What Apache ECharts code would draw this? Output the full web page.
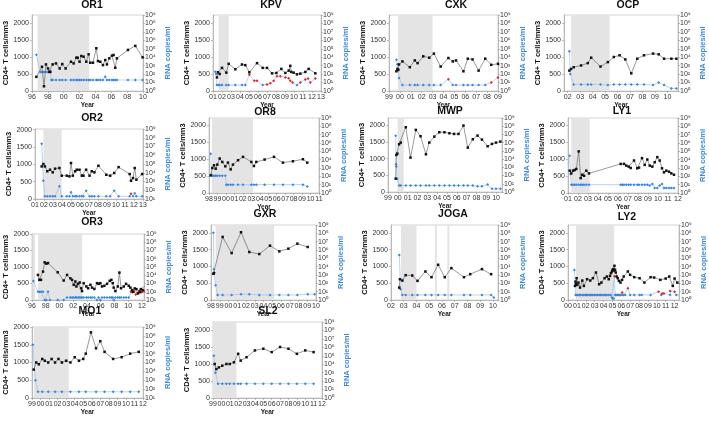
<!DOCTYPE html>
<html><head><meta charset="utf-8">
<script src="https://cdn.jsdelivr.net/npm/echarts@6/dist/echarts.min.js"></script>
<style>html,body{margin:0;padding:0;background:#fff}#c{width:709px;height:430px}</style>
</head><body><div id="c"></div>
<script>
// ---------------- DATA ----------------
const cd4Ticks = [0,500,1000,1500,2000];

const OR1_years = [1996,1998,2000,2002,2004,2006,2008,2010];
const OR1_shade = [[1996.7,2003.2]];
const OR1_cd4 = [[1996.55,416],[1997.26,713],[1997.51,139],[1997.76,782],[1998.02,663],[1998.18,564],[1998.31,564],[1998.6,782],[1999.03,812],[1999.49,663],[1999.82,792],[2000.24,663],[2000.92,861],[2001.25,812],[2001.59,980],[2001.76,980],[2002.0,861],[2002.22,1030],[2002.51,1010],[2002.85,861],[2003.14,1079],[2003.35,832],[2003.69,832],[2004.11,1257],[2004.32,881],[2004.61,861],[2004.95,762],[2005.24,911],[2005.45,782],[2005.75,960],[2006.08,1040],[2006.29,1059],[2006.5,683],[2006.71,960],[2008.1,1208],[2009.03,1327],[2009.95,990]];
const OR1_rna = [[1996.55,20000],[1997.05,180],[1997.26,180],[1997.51,180],[1997.76,180],[1998.02,180],[1998.18,180],[1998.31,180],[1998.45,20],[1998.6,20],[1999.03,20],[1999.49,20],[1999.82,20],[2000.24,20],[2000.92,20],[2001.25,20],[2001.59,20],[2001.76,20],[2002.0,20],[2002.22,20],[2002.51,20],[2002.85,20],[2003.14,20],[2003.35,20],[2003.69,20],[2004.11,20],[2004.32,20],[2004.61,20],[2004.95,20],[2005.24,50],[2005.45,20],[2005.75,20],[2006.08,20],[2006.29,20],[2006.5,20],[2006.71,20],[2008.1,20],[2009.03,20],[2009.95,20]];
const OR1_red = [];

const KPV_years = [2001,2002,2003,2004,2005,2006,2007,2008,2009,2010,2011,2012,2013];
const KPV_shade = [[2001.63,2002.74]];
const KPV_cd4 = [[2001.44,400],[2001.56,550],[2001.74,500],[2002.0,680],[2002.48,540],[2002.74,800],[2003.48,640],[2004.22,780],[2004.59,760],[2005.04,550],[2005.89,820],[2006.52,680],[2007.0,680],[2007.56,520],[2008.04,530],[2008.59,650],[2009.04,530],[2009.41,600],[2009.59,740],[2009.7,560],[2009.96,540],[2010.33,490],[2010.7,510],[2011.26,560],[2011.63,650],[2012.37,520]];
const KPV_rna = [[2001.26,190],[2001.35,100],[2001.44,5],[2001.56,5],[2001.74,5],[2002.0,5],[2002.48,5],[2002.74,5],[2003.48,5],[2004.22,5],[2004.59,5],[2006.52,5],[2010.33,5]];
const KPV_red = [[2005.04,83],[2005.59,16],[2005.89,16],[2007.0,6],[2007.37,8],[2007.74,16],[2008.11,57],[2008.48,57],[2009.04,40],[2009.41,33],[2009.59,16],[2009.85,10],[2010.7,10],[2011.26,23],[2011.56,30],[2011.81,10],[2012.37,30]];

const CXK_years = [1999,2000,2001,2002,2003,2004,2005,2006,2007,2008,2009];
const CXK_shade = [[1999.83,2003.0]];
const CXK_cd4 = [[1999.68,580],[1999.77,650],[1999.85,620],[1999.92,780],[2000.23,870],[2000.91,700],[2001.37,900],[2001.62,820],[2002.14,1020],[2002.69,980],[2003.12,1100],[2003.74,720],[2004.45,970],[2004.85,870],[2005.15,900],[2005.83,580],[2006.23,950],[2006.66,930],[2007.22,600],[2007.83,950],[2008.38,770],[2009.0,800]];
const CXK_rna = [[1999.68,5000],[1999.77,1500],[1999.85,400],[1999.92,35],[2000.23,5],[2000.91,5],[2001.37,5],[2001.62,5],[2002.14,5],[2002.69,5],[2003.12,5],[2003.74,5],[2004.85,5],[2005.15,5],[2005.83,5],[2006.23,5],[2006.66,5],[2007.22,5],[2007.83,5]];
const CXK_red = [[2004.45,25],[2008.38,10],[2009.0,40]];

const OCP_years = [2002,2003,2004,2005,2006,2007,2008,2009,2010];
const OCP_shade = [[2002.27,2005.36]];
const OCP_cd4 = [[2002.13,600],[2002.27,650],[2002.48,700],[2003.07,750],[2003.61,820],[2003.88,980],[2004.63,720],[2005.22,850],[2005.7,1000],[2006.16,1050],[2006.62,930],[2007.1,520],[2007.58,950],[2008.12,1050],[2008.85,1100],[2009.3,1080],[2009.73,950],[2010.32,950],[2010.72,950]];
const OCP_rna = [[2002.13,50000],[2002.2,100],[2002.48,6],[2003.07,6],[2003.61,6],[2003.88,6],[2004.63,6],[2005.22,5],[2005.7,6],[2006.16,6],[2006.62,6],[2007.1,6],[2007.58,6],[2008.12,6],[2008.85,5],[2009.3,10],[2009.73,5],[2010.32,2],[2010.72,2]];
const OCP_red = [];

const OR2_years = [2001,2002,2003,2004,2005,2006,2007,2008,2009,2010,2011,2012,2013];
const OR2_shade = [[2001.93,2003.97]];
const OR2_cd4 = [[2001.74,940],[2001.93,1010],[2002.1,940],[2002.37,800],[2002.67,845],[2002.97,770],[2003.23,875],[2003.71,895],[2003.97,673],[2004.53,673],[2004.83,653],[2005.0,1038],[2005.2,673],[2005.46,800],[2005.64,845],[2005.94,845],[2006.2,673],[2006.39,673],[2006.68,845],[2007.06,673],[2007.31,800],[2007.6,770],[2008.05,960],[2008.92,700],[2009.35,673],[2009.8,750],[2010.29,920],[2011.52,720],[2011.67,528],[2011.89,605],[2012.08,893],[2012.26,557],[2012.9,720]];
const OR2_rna = [[2001.74,20000000],[2001.93,1200],[2002.1,20],[2002.37,20],[2002.67,20],[2002.97,20],[2003.23,20],[2003.71,280],[2003.97,20],[2004.53,20],[2004.83,20],[2005.0,60],[2005.2,20],[2005.46,20],[2005.64,20],[2005.94,20],[2006.2,20],[2006.39,20],[2006.68,90],[2007.06,20],[2007.31,20],[2007.6,20],[2008.05,20],[2008.92,20],[2009.35,20],[2009.8,90],[2010.29,20],[2011.52,20],[2011.89,20],[2012.08,45],[2012.26,20],[2012.9,20]];
const OR2_red = [[2011.67,40]];

const OR8_years = [1998,1999,2000,2001,2002,2003,2004,2005,2006,2007,2008,2009,2010,2011];
const OR8_shade = [[1998.35,2003.2]];
const OR8_cd4 = [[1998.2,520],[1998.39,740],[1998.59,820],[1998.79,720],[1998.98,840],[1999.26,1020],[1999.57,920],[1999.93,790],[2000.24,900],[2000.56,700],[2000.83,840],[2001.43,970],[2002.02,1070],[2003.0,920],[2003.31,800],[2003.59,920],[2004.57,990],[2005.68,1070],[2006.74,900],[2007.92,940],[2009.1,1000],[2009.61,900]];
const OR8_rna = [[1998.2,50000],[1998.27,160],[1998.39,120],[1998.59,120],[1998.79,120],[1998.98,120],[1999.26,120],[1999.57,120],[1999.93,120],[2000.05,10],[2000.24,10],[2000.56,10],[2000.83,10],[2001.43,10],[2002.02,10],[2003.0,10],[2003.31,10],[2003.59,10],[2004.57,10],[2005.68,10],[2006.74,10],[2007.92,10],[2009.1,10],[2009.61,6]];
const OR8_red = [];

const MWP_years = [1999,2000,2001,2002,2003,2004,2005,2006,2007,2008,2009,2010];
const MWP_shade = [[1999.97,2000.6]];
const MWP_cd4 = [[1999.78,400],[1999.85,1110],[1999.95,1150],[2000.13,1430],[2000.3,1480],[2000.81,1940],[2001.29,1030],[2001.83,1860],[2002.31,1670],[2002.86,1130],[2003.2,1480],[2003.71,1660],[2004.22,1790],[2004.74,1790],[2005.25,1760],[2005.72,1740],[2006.17,1740],[2006.68,1990],[2007.12,1330],[2007.63,1580],[2008.11,1690],[2008.56,1570],[2009.14,1370],[2009.58,1440],[2009.99,1480],[2010.43,1510]];
const MWP_rna = [[1999.78,7000000],[1999.82,2300],[1999.85,1300],[1999.95,40],[2000.13,6],[2000.3,6],[2000.81,6],[2001.29,6],[2001.83,6],[2002.31,6],[2002.86,6],[2003.2,6],[2003.71,6],[2004.22,6],[2004.74,6],[2005.25,6],[2005.72,6],[2006.17,6],[2006.68,6],[2007.12,6],[2007.63,6],[2008.11,5],[2008.56,5],[2009.14,8],[2009.58,2.5],[2009.99,2.5],[2010.43,2.5]];
const MWP_red = [];

const LY1_years = [2001,2002,2003,2004,2005,2006,2007,2008,2009,2010,2011,2012];
const LY1_shade = [[2001.33,2003.17]];
const LY1_cd4 = [[2001.17,660],[2001.33,580],[2001.5,660],[2001.67,680],[2001.83,710],[2002.07,1230],[2002.27,440],[2002.43,540],[2002.6,510],[2002.83,660],[2003.1,580],[2006.27,860],[2006.6,860],[2006.83,810],[2007.07,780],[2007.27,740],[2007.6,960],[2007.93,730],[2008.1,750],[2008.4,1030],[2008.67,830],[2008.93,990],[2009.17,810],[2009.43,780],[2009.67,910],[2009.93,1060],[2010.17,960],[2010.4,730],[2010.6,610],[2010.83,660],[2011.1,630],[2011.33,580],[2011.6,540]];
const LY1_rna = [[2001.17,30000],[2001.25,190],[2001.33,10],[2001.5,10],[2001.67,10],[2001.83,10],[2002.07,10],[2002.27,10],[2002.43,10],[2002.6,10],[2002.83,10],[2003.1,10],[2006.27,10],[2006.43,10],[2006.6,10],[2006.83,10],[2007.07,10],[2007.27,10],[2007.6,10],[2007.93,10],[2008.1,10],[2008.4,10],[2008.67,10],[2008.93,10],[2009.17,8],[2009.43,12],[2009.67,4],[2009.93,4],[2010.17,8],[2010.4,12],[2010.6,4],[2010.83,4],[2011.1,4],[2011.33,4],[2011.6,4]];
const LY1_red = [];

const OR3_years = [1996,1998,2000,2002,2004,2006,2008,2010,2012];
const OR3_shade = [[1996.05,1996.45],[1996.87,2003.3]];
const OR3_cd4 = [[1996.87,760],[1997.07,610],[1997.31,610],[1997.6,860],[1997.84,1140],[1998.09,1100],[1998.33,1120],[1999.74,840],[2000.61,590],[2001.1,760],[2001.58,660],[2001.83,610],[2002.07,460],[2002.31,560],[2002.46,410],[2002.7,490],[2002.94,530],[2003.14,355],[2003.28,270],[2003.52,510],[2003.91,410],[2004.17,355],[2004.5,460],[2004.74,375],[2005.08,335],[2005.46,510],[2005.7,490],[2005.95,510],[2006.19,410],[2006.53,430],[2006.92,490],[2007.31,580],[2007.55,610],[2007.75,510],[2007.89,375],[2008.14,270],[2008.48,410],[2008.72,830],[2008.96,355],[2009.35,410],[2009.69,490],[2010.08,430],[2010.32,375],[2010.56,300],[2010.7,250],[2010.95,350],[2011.2,330],[2011.45,200],[2011.7,250],[2011.85,330],[2012.1,300],[2012.45,430]];
const OR3_rna = [[1996.2,2000],[1996.87,100],[1997.07,100],[1997.31,100],[1997.6,100],[1997.84,10],[1998.09,10],[1998.33,100],[1998.6,10],[1999.74,10],[2000.61,10],[2001.1,20],[2001.58,20],[2001.83,20],[2002.07,20],[2002.31,20],[2002.46,20],[2002.7,20],[2002.94,20],[2003.14,20],[2003.28,20],[2003.52,20],[2003.91,20],[2004.17,20],[2004.5,20],[2004.74,20],[2005.08,20],[2005.46,10],[2005.7,20],[2005.95,10],[2006.19,20],[2006.53,20],[2006.92,20],[2007.31,20],[2007.55,20],[2007.75,20],[2007.89,10],[2008.14,20],[2008.48,20],[2008.72,20],[2008.96,20],[2009.35,20],[2009.69,20],[2010.08,20]];
const OR3_red = [[2010.4,100],[2010.6,90],[2010.85,110],[2011.1,45],[2011.35,70],[2011.6,130],[2011.85,80],[2012.1,100],[2012.3,120]];

const GXR_years = [1998,1999,2000,2001,2002,2003,2004,2005,2006,2007,2008,2009,2010];
const GXR_shade = [[1998.53,2005.2]];
const GXR_cd4 = [[1998.27,780],[1998.34,800],[1999.33,1880],[2000.36,1400],[2001.43,2020],[2002.38,1430],[2003.52,1370],[2004.74,1620],[2005.81,1450],[2006.84,1530],[2007.87,1680],[2009.05,1580]];
const GXR_rna = [[1998.27,120000000],[1998.34,5000],[1998.38,2000],[1998.53,60],[1998.75,4],[1999.33,4],[2000.36,4],[2001.43,5],[2002.38,5],[2003.52,4],[2004.74,4],[2005.81,4],[2006.84,4],[2007.87,4],[2009.05,5],[2009.85,5]];
const GXR_red = [];

const JOGA_years = [2002,2003,2004,2005,2006,2007,2008,2009,2010];
const JOGA_shade = [[2002.78,2004.0],[2005.44,2005.6],[2006.42,2006.58]];
const JOGA_cd4 = [[2002.65,370],[2002.7,620],[2002.89,580],[2003.15,740],[2003.67,730],[2004.08,570],[2004.7,850],[2005.18,680],[2005.7,1050],[2006.22,680],[2006.74,950],[2007.73,680],[2008.22,770],[2009.14,920],[2009.86,770]];
const JOGA_rna = [[2002.65,250000],[2002.75,20],[2002.89,4],[2003.15,4],[2003.67,4],[2004.08,4],[2004.7,4],[2005.18,4],[2005.7,4],[2006.22,4],[2006.74,4],[2007.73,4],[2008.22,4],[2009.14,4],[2009.86,4],[2010.07,2]];
const JOGA_red = [];

const LY2_years = [2000,2001,2002,2003,2004,2005,2006,2007,2008,2009,2010,2011,2012];
const LY2_shade = [[2000.9,2005.2]];
const LY2_cd4 = [[2000.79,420],[2000.85,550],[2000.9,480],[2000.97,650],[2001.05,450],[2001.18,520],[2001.36,370],[2001.61,580],[2001.79,420],[2002.15,620],[2002.51,580],[2002.8,650],[2003.15,820],[2003.51,470],[2003.76,520],[2004.12,650],[2004.37,700],[2004.59,620],[2004.73,720],[2004.84,800],[2004.95,850],[2005.02,900],[2005.1,920],[2005.17,880],[2005.23,1020],[2005.3,900],[2005.38,820],[2005.48,700],[2005.6,650],[2005.73,570],[2005.91,520],[2006.09,600],[2006.27,700],[2006.74,850],[2006.99,750],[2007.46,680],[2008.06,650],[2008.6,520],[2009.3,680],[2009.7,670],[2010.4,600],[2011.0,640],[2011.4,700],[2011.8,420],[2012.0,640],[2012.3,520],[2012.6,480]];
const LY2_rna = [[2000.72,4000],[2000.85,4],[2000.97,4],[2001.12,4],[2001.3,4],[2001.41,4],[2001.61,4],[2001.79,4],[2001.93,4],[2002.07,4],[2002.22,4],[2002.4,4],[2002.51,4],[2002.68,4],[2002.8,4],[2002.99,4],[2003.15,4],[2003.3,4],[2003.51,4],[2003.66,4],[2003.82,4],[2004.04,4],[2004.2,4],[2004.37,4],[2004.59,4],[2004.8,4],[2004.95,2],[2005.05,1.5],[2005.15,1.5],[2005.3,4],[2005.38,4],[2005.48,4],[2005.6,4],[2005.73,4],[2005.82,4],[2005.91,4],[2006.09,4],[2006.27,4],[2006.45,4],[2006.99,4],[2007.46,4],[2008.06,4],[2008.3,4],[2009.3,4],[2010.5,4],[2011.5,4],[2012.2,4],[2012.6,4]];
const LY2_red = [[2005.23,700],[2006.1,8],[2006.74,25],[2010.2,10],[2010.6,6],[2010.8,6],[2011.5,12],[2012.0,10]];

const MO1_years = [1999,2000,2001,2002,2003,2004,2005,2006,2007,2008,2009,2010,2011,2012];
const MO1_shade = [[1999.2,2003.3]];
const MO1_cd4 = [[1999.2,800],[1999.5,1000],[1999.8,950],[2000.2,1100],[2000.5,1050],[2000.9,1000],[2001.3,1100],[2001.7,1000],[2002.1,1100],[2002.5,1000],[2003.0,1050],[2003.5,1000],[2004.0,1150],[2004.5,1050],[2005.0,1100],[2005.3,1250],[2005.9,1850],[2006.5,1400],[2007.0,1600],[2007.5,1300],[2008.5,1100],[2009.5,1150],[2010.5,1250],[2011.5,1300]];
const MO1_rna = [[1999.1,10000000],[1999.4,1000],[1999.7,50],[2000.2,50],[2000.9,50],[2001.7,50],[2002.5,50],[2003.5,50],[2004.5,50],[2005.3,50],[2006.5,50],[2007.5,50],[2008.5,50],[2009.5,50],[2010.5,50],[2011.5,50]];
const MO1_red = [];

const SL2_years = [1999,2000,2001,2002,2003,2004,2005,2006,2007,2008,2009,2010,2011,2012];
const SL2_shade = [[1999.0,2001.8]];
const SL2_cd4 = [[1999.2,1000],[1999.4,850],[1999.7,900],[2000.1,950],[2000.6,1000],[2001.0,1000],[2001.5,1050],[2002.0,1300],[2002.3,1100],[2003.0,1200],[2004.0,1400],[2005.0,1450],[2006.0,1350],[2007.0,1500],[2008.0,1450],[2009.0,1300],[2010.0,1400],[2011.0,1350]];
const SL2_rna = [[1999.1,100000],[1999.3,1000],[1999.6,50],[2000.1,50],[2000.6,50],[2001.0,50],[2001.5,50],[2002.0,50],[2002.3,50],[2003.0,50],[2004.0,50],[2005.0,50],[2006.0,50],[2007.0,50],[2008.0,50],[2009.0,50],[2010.0,50],[2011.0,50]];
const SL2_red = [];

// ---------------- LAYOUT ----------------
const panels = [
  {name:'OR1', cd4:OR1_cd4, rna:OR1_rna, red:OR1_red, shade:OR1_shade, years:OR1_years, xr:[1996,2010], box:[32,15,143,91], cd4Max:2236, logMin:1, tx:92, ty:6},
  {name:'KPV', cd4:KPV_cd4, rna:KPV_rna, red:KPV_red, shade:KPV_shade, years:KPV_years, xr:[2001,2013], box:[213,15,321,91], cd4Max:2236, logMin:1, tx:271, ty:6},
  {name:'CXK', cd4:CXK_cd4, rna:CXK_rna, red:CXK_red, shade:CXK_shade, years:CXK_years, xr:[1999,2009], box:[389,15,498,91], cd4Max:2236, logMin:1, tx:456, ty:6},
  {name:'OCP', cd4:OCP_cd4, rna:OCP_rna, red:OCP_red, shade:OCP_shade, years:OCP_years, xr:[2001.7,2010.85], box:[564,15,678,91], cd4Max:2236, logMin:1, tx:628, ty:6},
  {name:'OR2', cd4:OR2_cd4, rna:OR2_rna, red:OR2_red, shade:OR2_shade, years:OR2_years, xr:[2001,2013], box:[35,129,143,199], cd4Max:2020, logMin:10, tx:92, ty:119},
  {name:'OR8', cd4:OR8_cd4, rna:OR8_rna, red:OR8_red, shade:OR8_shade, years:OR8_years, xr:[1998,2011], box:[209,118,319,193], cd4Max:2221, logMin:1, tx:265, ty:113},
  {name:'MWP', cd4:MWP_cd4, rna:MWP_rna, red:MWP_red, shade:MWP_shade, years:MWP_years, xr:[1999,2010.6], box:[388,118,502,192], cd4Max:2217, logMin:1, tx:450, ty:112},
  {name:'LY1', cd4:LY1_cd4, rna:LY1_rna, red:LY1_red, shade:LY1_shade, years:LY1_years, xr:[2001,2012], box:[568,118,678,193], cd4Max:2217, logMin:1, tx:622, ty:112},
  {name:'OR3', cd4:OR3_cd4, rna:OR3_rna, red:OR3_red, shade:OR3_shade, years:OR3_years, xr:[1996,2012.3], box:[32,234,144,300], cd4Max:2000, logMin:10, tx:92, ty:223},
  {name:'GXR', cd4:GXR_cd4, rna:GXR_rna, red:GXR_red, shade:GXR_shade, years:GXR_years, xr:[1998,2010], box:[211,225,316,300], cd4Max:2236, logMin:1, tx:265, ty:215},
  {name:'JOGA', cd4:JOGA_cd4, rna:JOGA_rna, red:JOGA_red, shade:JOGA_shade, years:JOGA_years, xr:[2002,2010.4], box:[391,225,498,300], cd4Max:2236, logMin:1, tx:453, ty:215},
  {name:'LY2', cd4:LY2_cd4, rna:LY2_rna, red:LY2_red, shade:LY2_shade, years:LY2_years, xr:[2000,2012.5], box:[568,225,685,300], cd4Max:2236, logMin:1, tx:627, ty:218},
  {name:'MO1', cd4:MO1_cd4, rna:MO1_rna, red:MO1_red, shade:MO1_shade, years:MO1_years, xr:[1999,2012], box:[32,327,143,398], cd4Max:2000, logMin:10, tx:90, ty:312},
  {name:'SL2', cd4:SL2_cd4, rna:SL2_rna, red:SL2_red, shade:SL2_shade, years:SL2_years, xr:[1999,2012], box:[213,322,322,398], cd4Max:2236, logMin:1, tx:268, ty:312}
];

// ---------------- BUILD ----------------
const SUP = ['⁰','¹','²','³','⁴','⁵','⁶','⁷','⁸','⁹'];
const FONT = 'Liberation Sans, Arial, sans-serif';
const NARROW = '"Liberation Sans Narrow", "Liberation Sans", Arial, sans-serif';
const BLUE = '#3a86e0', LBLUE = '#9cc2ef', RED = '#e0262a';
const grids=[], xAxes=[], yAxes=[], series=[], titles=[];

panels.forEach((p,i)=>{
  const [l,t,r,b] = p.box;
  grids.push({left:l, top:t, width:r-l, height:b-t, show:true, borderColor:'#b5b5b5', borderWidth:0.6, backgroundColor:'rgba(0,0,0,0)'});
  titles.push({text:p.name, left:p.tx, top:p.ty-6, padding:0, textAlign:'center', textStyle:{fontSize:10.5, fontWeight:'bold', color:'#111', fontFamily:FONT}});
  xAxes.push({type:'value', gridIndex:i, min:p.xr[0], max:p.xr[1],
    name:'Year', nameLocation:'middle', nameGap:11,
    nameTextStyle:{fontSize:6.5, fontWeight:'bold', color:'#222', fontFamily:FONT},
    axisLine:{onZero:false, lineStyle:{color:'#999', width:0.6}},
    axisTick:{customValues:p.years, length:2, lineStyle:{color:'#999', width:0.6}},
    axisLabel:{customValues:p.years, fontSize:7, color:'#333', margin:3, fontFamily:NARROW,
      formatter:v=>String(Math.round(v)%100).padStart(2,'0')},
    splitLine:{show:false}});
  yAxes.push({type:'value', gridIndex:i, position:'left', min:0, max:p.cd4Max,
    name:'CD4+ T cells/mm3', nameLocation:'middle', nameGap:15, nameRotate:90,
    nameTextStyle:{fontSize:7.5, fontWeight:'bold', color:'#111', fontFamily:FONT},
    axisLine:{show:true, lineStyle:{color:'#999', width:0.6}},
    axisTick:{show:true, customValues:cd4Ticks, length:2, lineStyle:{color:'#999', width:0.6}},
    axisLabel:{customValues:cd4Ticks, fontSize:7, color:'#333', margin:3, fontFamily:NARROW,
      formatter:v=>String(Math.round(v))},
    splitLine:{show:false}});
  yAxes.push({type:'log', logBase:10, gridIndex:i, position:'right', min:p.logMin, max:1e9,
    name:'RNA copies/ml', nameLocation:'middle', nameGap:21, nameRotate:90,
    nameTextStyle:{fontSize:7.5, fontWeight:'bold', color:BLUE, fontFamily:FONT},
    axisLine:{show:true, lineStyle:{color:'#999', width:0.6}},
    axisTick:{show:true, length:2, lineStyle:{color:'#999', width:0.6}},
    axisLabel:{fontSize:7, color:'#333', margin:2, fontFamily:NARROW,
      formatter:v=>'10'+SUP[Math.round(Math.log10(v))]},
    splitLine:{show:false}, minorTick:{show:false}});

  series.push({type:'line', name:p.name+' CD4', xAxisIndex:i, yAxisIndex:2*i, data:p.cd4,
    symbol:'rect', symbolSize:2.5, showAllSymbol:true, z:3,
    lineStyle:{color:'#555', width:0.6}, itemStyle:{color:'#111'},
    markArea:{silent:true, itemStyle:{color:'#e4e4e4'},
      data:p.shade.map(s=>[{xAxis:s[0]},{xAxis:s[1]}])}});
  const redKeys = new Set(p.red.map(d=>d[0]+'_'+d[1]));
  const rnaAll = p.rna.concat(p.red).slice().sort((a,b)=>a[0]-b[0]).map(d=>({
    value:d, itemStyle:{color: redKeys.has(d[0]+'_'+d[1]) ? RED : BLUE}}));
  series.push({type:'line', name:p.name+' RNA', xAxisIndex:i, yAxisIndex:2*i+1, data:rnaAll,
    symbol:'diamond', symbolSize:3, showAllSymbol:true, z:2,
    lineStyle:{color:LBLUE, width:0.7}});
});

const chart = echarts.init(document.getElementById('c'), null, {renderer:'canvas'});
chart.setOption({animation:false, backgroundColor:'#fff', title:titles, grid:grids, xAxis:xAxes, yAxis:yAxes, series:series, tooltip:{show:false}});
</script></body></html>
